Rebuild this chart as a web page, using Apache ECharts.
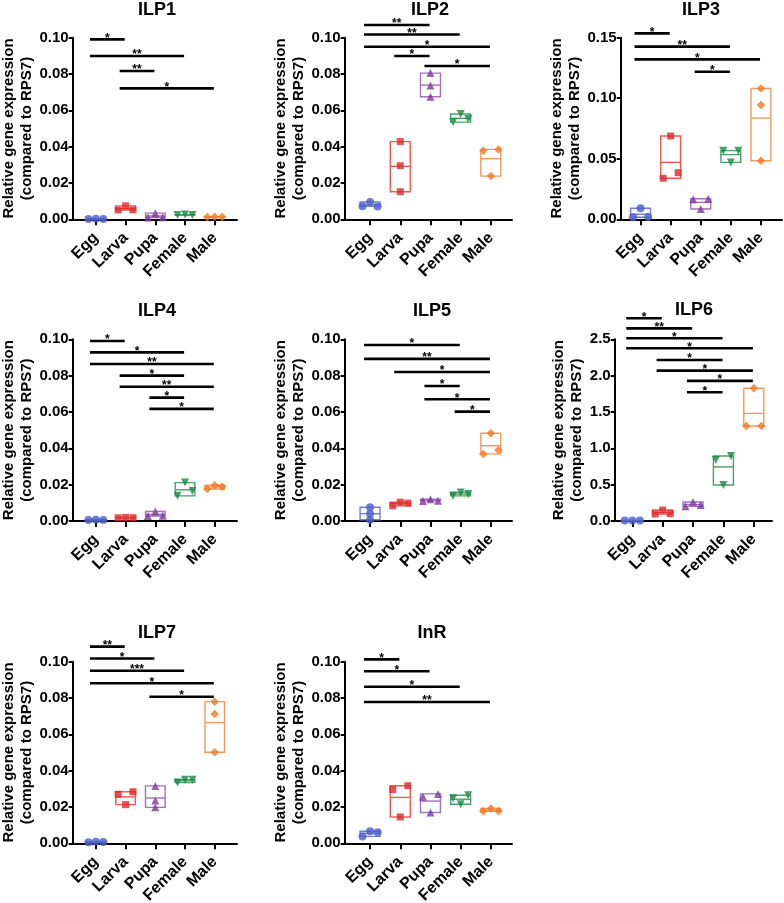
<!DOCTYPE html>
<html><head><meta charset="utf-8">
<script src="https://cdn.jsdelivr.net/npm/echarts@6/dist/echarts.min.js"></script>
<style>html,body{margin:0;padding:0;background:#fff}#c{width:784px;height:903px}</style>
</head><body><div id="c"></div>
<script>
// ---------- DATA ----------
const groups = ['Egg', 'Larva', 'Pupa', 'Female', 'Male'];
const genes = ['ILP1', 'ILP2', 'ILP3', 'ILP4', 'ILP5', 'ILP6', 'ILP7', 'InR'];
const yMax = [0.10, 0.10, 0.15, 0.10, 0.10, 2.5, 0.10, 0.10];
const yStep = [0.02, 0.02, 0.05, 0.02, 0.02, 0.5, 0.02, 0.02];
const yDecimals = [2, 2, 2, 2, 2, 1, 2, 2];

// replicate values per group: Egg, Larva, Pupa, Female, Male
const ILP1 = [[0.0002, 0.0003, 0.0002], [0.0051, 0.0074, 0.0052], [0.0010, 0.0034, 0.0011], [0.0023, 0.0026, 0.0024], [0.0013, 0.0014, 0.0013]];
const ILP2 = [[0.0072, 0.0095, 0.0071], [0.0428, 0.0295, 0.0152], [0.0805, 0.0737, 0.0675], [0.0535, 0.0580, 0.0553], [0.0378, 0.0238, 0.0385]];
const ILP3 = [[0.0017, 0.0091, 0.0018], [0.0339, 0.0688, 0.0385], [0.0165, 0.0085, 0.0170], [0.0567, 0.0470, 0.0567], [0.1080, 0.0944, 0.0484]];
const ILP4 = [[0.0005, 0.0006, 0.0005], [0.0017, 0.0019, 0.0018], [0.0027, 0.0052, 0.0028], [0.0138, 0.0211, 0.0165], [0.0176, 0.0196, 0.0188]];
const ILP5 = [[0.0075, 0.0039, 0.0006], [0.0083, 0.0103, 0.0098], [0.0110, 0.0119, 0.0111], [0.0138, 0.0157, 0.0148], [0.0369, 0.0483, 0.0390]];
const ILP6 = [[0.004, 0.005, 0.004], [0.095, 0.150, 0.100], [0.200, 0.260, 0.220], [0.840, 0.495, 0.894], [1.307, 1.826, 1.307]];
const ILP7 = [[0.0006, 0.0008, 0.0007], [0.0213, 0.0270, 0.0284], [0.0316, 0.0235, 0.0198], [0.0335, 0.0350, 0.0350], [0.0780, 0.0712, 0.0501]];
const InR  = [[0.0038, 0.0066, 0.0061], [0.0296, 0.0317, 0.0145], [0.0256, 0.0170, 0.0272], [0.0248, 0.0215, 0.0265], [0.0176, 0.0192, 0.0178]];

// significance brackets: [fromGroup, toGroup, yValue, label]
const ILP1_sig = [[0, 1, 0.0991, '*'], [0, 3, 0.0899, '**'], [1, 2, 0.0817, '**'], [1, 4, 0.0721, '*']];
const ILP2_sig = [[0, 2, 0.1070, '**'], [0, 3, 0.1018, '**'], [0, 4, 0.0950, '*'], [1, 2, 0.0899, '*'], [2, 4, 0.0844, '*']];
const ILP3_sig = [[0, 1, 0.1536, '*'], [0, 3, 0.1426, '**'], [0, 4, 0.1321, '*'], [2, 3, 0.1219, '*']];
const ILP4_sig = [[0, 1, 0.0991, '*'], [0, 3, 0.0928, '*'], [0, 4, 0.0864, '**'], [1, 3, 0.0800, '*'], [1, 4, 0.0739, '**'], [2, 3, 0.0679, '*'], [2, 4, 0.0617, '*']];
const ILP5_sig = [[0, 3, 0.0969, '*'], [0, 4, 0.0892, '**'], [1, 4, 0.0820, '*'], [2, 3, 0.0743, '*'], [2, 4, 0.0670, '*'], [3, 4, 0.0602, '*']];
const ILP6_sig = [[0, 1, 2.789, '*'], [0, 2, 2.651, '**'], [0, 3, 2.514, '*'], [0, 4, 2.376, '*'], [1, 3, 2.216, '*'], [1, 4, 2.069, '*'], [2, 4, 1.927, '*'], [2, 3, 1.771, '*']];
const ILP7_sig = [[0, 1, 0.1083, '**'], [0, 2, 0.1018, '*'], [0, 3, 0.0950, '***'], [0, 4, 0.0881, '*'], [2, 4, 0.0807, '*']];
const InR_sig  = [[0, 1, 0.1013, '*'], [0, 2, 0.0947, '*'], [0, 3, 0.0862, '*'], [0, 4, 0.0778, '**']];

const panelData = [ILP1, ILP2, ILP3, ILP4, ILP5, ILP6, ILP7, InR];
const panelSig = [ILP1_sig, ILP2_sig, ILP3_sig, ILP4_sig, ILP5_sig, ILP6_sig, ILP7_sig, InR_sig];

// ---------- STYLE / LAYOUT ----------
const FONT = 'Liberation Sans, Arial, Helvetica, sans-serif';
const markerColors = ['#4a5cc8', '#e0262b', '#7b3a9c', '#168a42', '#f07820'];
const boxColors = ['#6f7dd3', '#ee5a4c', '#a46fc2', '#4c9f66', '#f5985a'];
const symbols = ['circle', 'rect', 'triangle', 'triangle', 'diamond'];
const symRot = [0, 0, 0, 180, 0];
const symSize = [8, 7, 8, 8, 8.5];
const PH = 181.6;
// [axisLeft, top, width, xMin, xMax, titleX, titleTop, nameGap]
const layout = [
  [72.7, 37.7, 164.3, -0.78, 4.75, 157, 1.5, 29.5],
  [344.7, 37.7, 167.3, -0.84, 4.70, 430, 1.5, 28],
  [620.7, 37.7, 161.3, -0.66, 4.70, 701, 1.5, 33],
  [72.7, 339.3, 164.3, -0.78, 4.75, 157, 302, 29.5],
  [344.7, 339.3, 167.3, -0.84, 4.70, 432, 302, 28],
  [614.7, 339.3, 157.3, -0.58, 4.60, 694, 301.5, 27.5],
  [72.7, 661.7, 164.3, -0.78, 4.75, 157, 624.5, 29.5],
  [344.7, 661.7, 167.3, -0.84, 4.70, 432, 624.5, 28.5]
];
const S = 0.25, BOXHW = 0.33;

function jitter(vals, ppu) {
  const idx = vals.map((v, i) => i).sort((a, b) => vals[a] - vals[b]);
  const clusters = []; let cur = [idx[0]];
  for (let n = 1; n < idx.length; n++) {
    if ((vals[idx[n]] - vals[idx[n - 1]]) * ppu < 5.8) cur.push(idx[n]);
    else { clusters.push(cur); cur = [idx[n]]; }
  }
  clusters.push(cur);
  const off = new Array(vals.length).fill(0);
  clusters.forEach(c => {
    c.sort((a, b) => a - b);
    if (c.length === 2) { off[c[0]] = -S; off[c[1]] = S; }
    else if (c.length >= 3) { off[c[0]] = -S; off[c[1]] = 0; off[c[2]] = S; }
  });
  return off;
}

const grid = [], xAxis = [], yAxis = [], series = [], title = [];
panelData.forEach((pd, k) => {
  const L = layout[k];
  grid.push({ left: L[0], top: L[1], width: L[2], height: PH, containLabel: false, outerBoundsMode: 'none' });
  title.push({ text: genes[k], left: L[5], top: L[6], textAlign: 'center', padding: 0,
    textStyle: { fontFamily: FONT, fontSize: 18, fontWeight: 'bold', color: '#000' } });
  xAxis.push({
    type: 'value', gridIndex: k, min: L[3], max: L[4],
    splitLine: { show: false },
    axisLine: { show: true, onZero: false, lineStyle: { color: '#000', width: 2 } },
    axisTick: { show: true, customValues: [0, 1, 2, 3, 4], length: 6, lineStyle: { color: '#000', width: 2 } },
    axisLabel: { customValues: [0, 1, 2, 3, 4], formatter: v => groups[Math.round(v)], rotate: 45,
      fontFamily: FONT, fontSize: 16, fontWeight: 'bold', color: '#000', margin: 16 }
  });
  yAxis.push({
    type: 'value', gridIndex: k, min: 0, max: yMax[k], interval: yStep[k],
    splitLine: { show: false },
    axisLine: { show: true, onZero: false, lineStyle: { color: '#000', width: 2 } },
    axisTick: { show: true, length: 4, lineStyle: { color: '#000', width: 2 } },
    axisLabel: { formatter: v => v.toFixed(yDecimals[k]), fontFamily: FONT, fontSize: 15, fontWeight: 'bold', color: '#000', margin: 4 },
    name: 'Relative gene expression\n(compared to RPS7)', nameLocation: 'middle', nameRotate: 90, nameGap: L[7],
    nameTextStyle: { fontFamily: FONT, fontSize: 15, fontWeight: 'bold', color: '#000', lineHeight: 18 }
  });
  // boxes: min..max with mean line
  const boxData = pd.map((vals, g) => {
    const mn = Math.min(...vals), mx = Math.max(...vals), mean = vals.reduce((a, b) => a + b, 0) / vals.length;
    return [g, mn, mx, mean];
  });
  series.push({
    type: 'custom', xAxisIndex: k, yAxisIndex: k, z: 2, silent: true,
    data: boxData,
    renderItem: (params, api) => {
      const g = api.value(0);
      const a = api.coord([g - BOXHW, api.value(2)]);
      const b = api.coord([g + BOXHW, api.value(1)]);
      const m0 = api.coord([g - BOXHW, api.value(3)]);
      const m1 = api.coord([g + BOXHW, api.value(3)]);
      const col = boxColors[g];
      return { type: 'group', children: [
        { type: 'rect', shape: { x: a[0], y: a[1], width: b[0] - a[0], height: b[1] - a[1] }, style: { fill: 'none', stroke: col, lineWidth: 1.4 } },
        { type: 'line', shape: { x1: m0[0], y1: m0[1], x2: m1[0], y2: m1[1] }, style: { stroke: col, lineWidth: 1.4 } }
      ] };
    }
  });
  // points
  const ppu = PH / yMax[k];
  const pts = [];
  pd.forEach((vals, g) => {
    const off = jitter(vals, ppu);
    vals.forEach((v, i) => {
      pts.push({ value: [g + off[i], v], symbol: symbols[g], symbolRotate: symRot[g], symbolSize: symSize[g],
        itemStyle: { color: markerColors[g] } });
    });
  });
  series.push({ type: 'scatter', xAxisIndex: k, yAxisIndex: k, z: 3, silent: true, data: pts });
  // significance brackets
  const sig = panelSig[k];
  series.push({
    type: 'custom', xAxisIndex: k, yAxisIndex: k, z: 4, silent: true, clip: false,
    data: sig.map(s => [s[0], s[1], s[2]]),
    renderItem: (params, api) => {
      const p0 = api.coord([api.value(0) - 0.2, api.value(2)]);
      const p1 = api.coord([api.value(1) - 0.03, api.value(2)]);
      const lab = sig[params.dataIndex][3];
      return { type: 'group', children: [
        { type: 'line', shape: { x1: p0[0], y1: p0[1], x2: p1[0], y2: p1[1] }, style: { stroke: '#000', lineWidth: 2.6 } },
        { type: 'text', x: (p0[0] + p1[0]) / 2, y: p0[1] - 1,
          style: { text: lab, fill: '#000', font: 'bold 12px ' + FONT, align: 'center', verticalAlign: 'middle' } }
      ] };
    }
  });
});

const chart = echarts.init(document.getElementById('c'), null, { renderer: 'canvas' });
chart.setOption({ animation: false, backgroundColor: '#fff', title, grid, xAxis, yAxis, series });
</script>
</body></html>
